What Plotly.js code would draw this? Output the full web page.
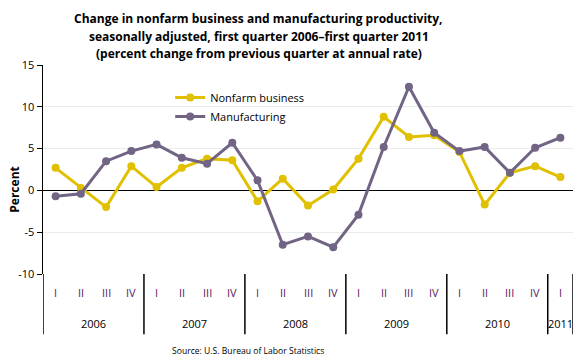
<!DOCTYPE html>
<html>
<head>
<meta charset="utf-8">
<script src="https://cdn.plot.ly/plotly-3.0.1.min.js"></script>
<style>html,body{margin:0;padding:0;background:#fff;}#chart{width:580px;height:360px;}</style>
</head>
<body>
<div id="chart"></div>
<script>
const quarters = ["I","II","III","IV","I","II","III","IV","I","II","III","IV","I","II","III","IV","I","II","III","IV","I"];
const years = ["2006","2006","2006","2006","2007","2007","2007","2007","2008","2008","2008","2008","2009","2009","2009","2009","2010","2010","2010","2010","2011"];
const nonfarm = [2.7, 0.3, -2.0, 2.9, 0.4, 2.7, 3.8, 3.6, -1.3, 1.4, -1.8, 0.1, 3.8, 8.8, 6.4, 6.6, 4.6, -1.7, 2.1, 2.9, 1.6];
const manufacturing = [-0.7, -0.4, 3.5, 4.7, 5.5, 3.9, 3.2, 5.7, 1.2, -6.5, -5.5, -6.8, -2.9, 5.2, 12.4, 6.9, 4.7, 5.2, 2.1, 5.1, 6.3];
const yTicks = [-10, -5, 0, 5, 10, 15];
const titleLines = [
  "Change in nonfarm business and manufacturing productivity,",
  "seasonally adjusted, first quarter 2006\u2013first quarter 2011",
  "(percent change from previous quarter at annual rate)"
];

const idx = quarters.map((q, i) => i);

// year groups
const yearNames = [];
const yearStart = [];
const yearEnd = [];
years.forEach((y, i) => {
  if (yearNames.length === 0 || yearNames[yearNames.length - 1] !== y) {
    yearNames.push(y); yearStart.push(i); yearEnd.push(i);
  } else {
    yearEnd[yearEnd.length - 1] = i;
  }
});

const YELLOW = '#E0C000';
const PURPLE = '#716485';
const FONT = 'Open Sans, Noto Sans, sans-serif';

const traces = [
  {x: idx, y: nonfarm, name: 'Nonfarm business', type: 'scatter', mode: 'lines+markers',
   line: {color: YELLOW, width: 3}, marker: {color: YELLOW, size: 8}},
  {x: idx, y: manufacturing, name: 'Manufacturing', type: 'scatter', mode: 'lines+markers',
   line: {color: PURPLE, width: 3}, marker: {color: PURPLE, size: 8}}
];

const plotLeft = 43, plotW = 530;
const plotTop = 65, plotH = 209.5;
const py = px => (plotTop + plotH - px) / plotH;
const pxx = px => (px - plotLeft) / plotW;

const annotations = [];
const titleY = [18, 36, 53];
titleLines.forEach((t, k) => {
  annotations.push({x: 0.4075, xref: 'paper', y: py(titleY[k]), yref: 'paper', text: '<b>' + t + '</b>', showarrow: false,
    font: {family: FONT, size: 12, color: '#000'}, xanchor: 'center', yanchor: 'middle'});
});
annotations.push({x: pxx(15), xref: 'paper', y: py(190), yref: 'paper', text: '<b>Percent</b>', showarrow: false,
  textangle: -90, font: {family: FONT, size: 12, color: '#000'}, xanchor: 'center', yanchor: 'middle'});
quarters.forEach((q, i) => {
  annotations.push({x: i, xref: 'x', y: py(293), yref: 'paper', text: q, showarrow: false,
    font: {family: FONT, size: 11, color: '#5A1A5A'}, xanchor: 'center', yanchor: 'middle'});
});
yearNames.forEach((y, k) => {
  annotations.push({x: (yearStart[k] + yearEnd[k]) / 2, xref: 'x', y: py(324), yref: 'paper', text: y, showarrow: false,
    font: {family: FONT, size: 11, color: '#000'}, xanchor: 'center', yanchor: 'middle'});
});
annotations.push({x: 0.386, xref: 'paper', y: py(352), yref: 'paper', text: 'Source: U.S. Bureau of Labor Statistics',
  showarrow: false, font: {family: FONT, size: 8.6, color: '#000'}, xanchor: 'center', yanchor: 'middle'});

const shapes = [];
const seps = [-0.5].concat(yearEnd.map(e => e + 0.5));
seps.forEach(s => {
  shapes.push({type: 'line', xref: 'x', yref: 'paper', x0: s, x1: s, y0: 0, y1: py(335),
    line: {color: '#000', width: 1.5}});
});

const layout = {
  width: 580, height: 360,
  margin: {l: 43, r: 7, t: 65, b: 85.5},
  paper_bgcolor: '#fff', plot_bgcolor: '#fff',
  xaxis: {range: [-0.5, 20.5], showticklabels: false, showgrid: false, zeroline: false, ticks: '', showline: false, fixedrange: true},
  yaxis: {range: [-10, 15], tickvals: yTicks, ticktext: yTicks.map(String), showgrid: true, gridcolor: '#EBEBEB', gridwidth: 1,
    zeroline: true, zerolinecolor: '#000', zerolinewidth: 1.5, showline: true, linecolor: '#000', linewidth: 1.5,
    ticks: 'outside', ticklen: 5, tickcolor: '#000', tickfont: {family: FONT, size: 11, color: '#000'}},
  legend: {x: 0.24, y: py(83), xanchor: 'left', yanchor: 'top', bgcolor: 'rgba(0,0,0,0)',
    font: {family: FONT, size: 11, color: '#000'}, itemwidth: 30, tracegroupgap: 0},
  showlegend: true,
  annotations: annotations,
  shapes: shapes
};

Plotly.newPlot('chart', traces, layout, {displayModeBar: false, staticPlot: true});
</script>
</body>
</html>
